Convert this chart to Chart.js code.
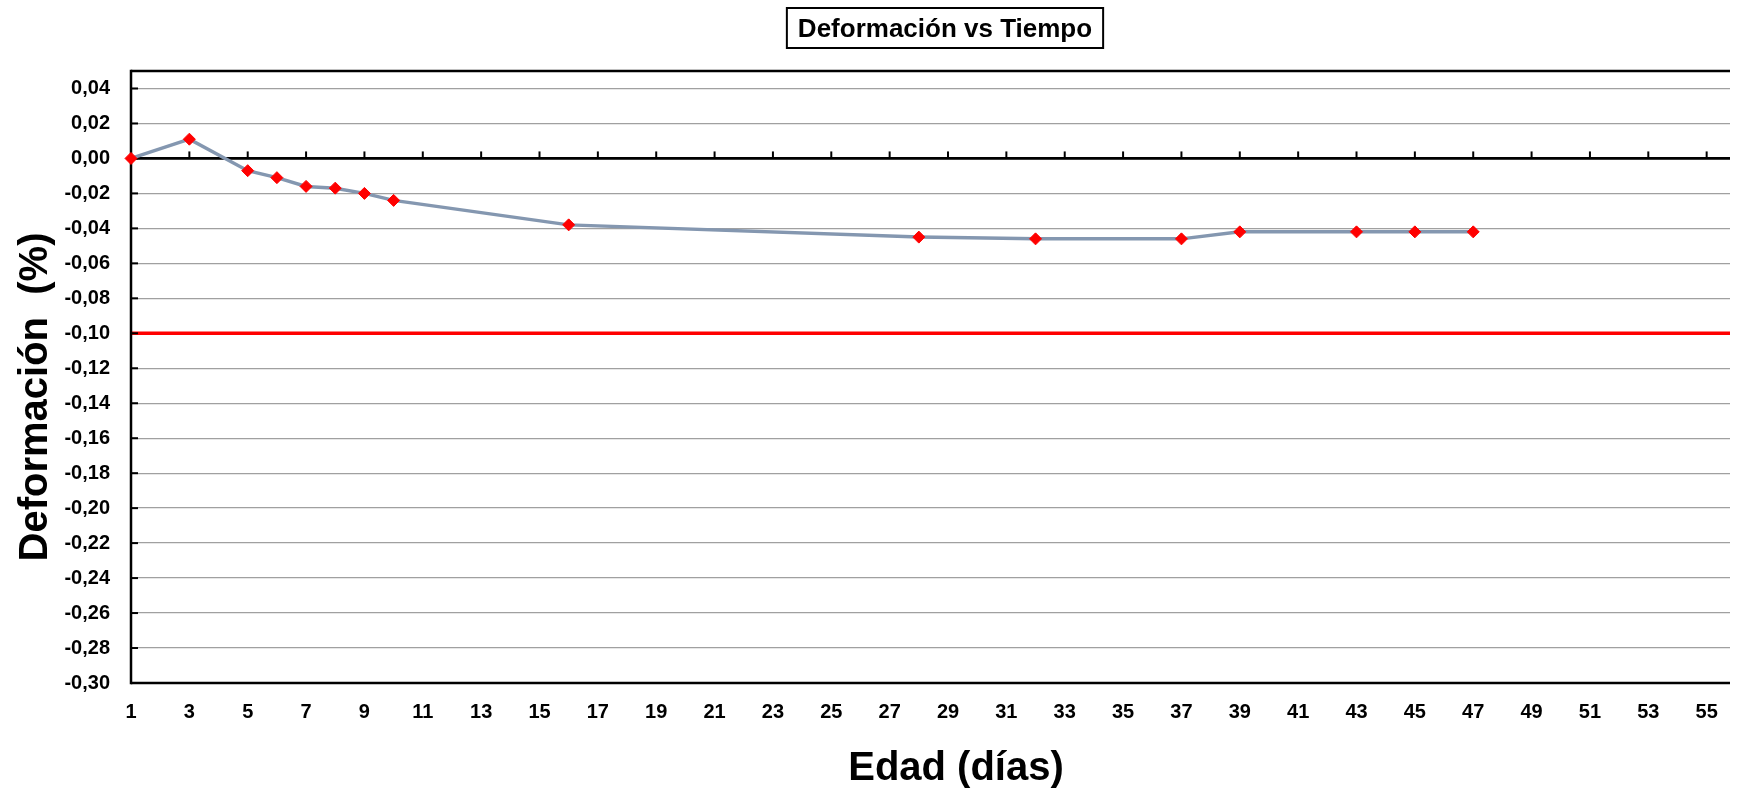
<!DOCTYPE html>
<html>
<head>
<meta charset="utf-8">
<script src="https://cdn.jsdelivr.net/npm/chart.js@4.4.1/dist/chart.umd.min.js"></script>
<style>
  html, body { margin: 0; padding: 0; background: #ffffff; }
  #wrap { width: 1737px; height: 794px; position: relative; }
</style>
</head>
<body>
<div id="wrap"><canvas id="c"></canvas></div>
<script>
// Measured deformation by age of the specimen
const edadDias = [1, 3, 5, 6, 7, 8, 9, 10, 16, 28, 32, 37, 39, 43, 45, 47];
const deformacion = [0, 0.011, -0.007, -0.011, -0.016, -0.017, -0.020, -0.024, -0.038,
                     -0.045, -0.046, -0.046, -0.042, -0.042, -0.042, -0.042];
// Allowed deformation limit
const limiteDeformacion = -0.10;

// Axis ticks
const xTicks = [1, 3, 5, 7, 9, 11, 13, 15, 17, 19, 21, 23, 25, 27, 29, 31, 33, 35, 37, 39,
                41, 43, 45, 47, 49, 51, 53, 55];
const yTicks = [0.04, 0.02, 0.00, -0.02, -0.04, -0.06, -0.08, -0.10, -0.12, -0.14, -0.16,
                -0.18, -0.20, -0.22, -0.24, -0.26, -0.28, -0.30];

// Texts
const chartTitle = 'Deformación vs Tiempo';
const xTitle = 'Edad (días)';
const yTitle = 'Deformación  (%)';

const FONT = '"Liberation Sans", Arial, sans-serif';

function seg(ctx, x1, y1, x2, y2) {
  ctx.beginPath();
  ctx.moveTo(x1, y1);
  ctx.lineTo(x2, y2);
  ctx.stroke();
}

// Plot frame, zero axis, limit line and the text labels around the plot
const framePlugin = {
  id: 'frame',
  beforeDatasetsDraw(chart) {
    const { ctx, chartArea: a, scales: { x, y } } = chart;
    ctx.save();
    ctx.lineCap = 'butt';

    // limit line
    const yl = y.getPixelForValue(limiteDeformacion);
    ctx.strokeStyle = '#ff0000';
    ctx.lineWidth = 3.5;
    seg(ctx, a.left, yl, a.right, yl);

    // frame: top, bottom, left
    ctx.strokeStyle = '#000000';
    ctx.lineWidth = 2.5;
    seg(ctx, a.left, a.top, a.right, a.top);
    seg(ctx, a.left, a.bottom, a.right, a.bottom);
    seg(ctx, a.left, a.top - 1.25, a.left, a.bottom + 1.25);

    // y tick marks pointing into the plot
    ctx.lineWidth = 2;
    yTicks.forEach(v => {
      const py = y.getPixelForValue(v);
      seg(ctx, a.left, py, a.left + 7, py);
    });

    // horizontal axis crossing at zero, with its tick marks
    const y0 = y.getPixelForValue(0);
    ctx.lineWidth = 2.8;
    seg(ctx, a.left, y0, a.right, y0);
    ctx.lineWidth = 2;
    xTicks.forEach(v => {
      const px = x.getPixelForValue(v);
      seg(ctx, px, y0, px, y0 - 7);
    });
    ctx.restore();
  },
  afterDraw(chart) {
    const { ctx } = chart;
    ctx.save();
    ctx.fillStyle = '#000000';

    // boxed chart title
    ctx.font = 'bold 26px ' + FONT;
    ctx.textAlign = 'center';
    ctx.textBaseline = 'alphabetic';
    const tw = ctx.measureText(chartTitle).width;
    const cx = 945;
    ctx.strokeStyle = '#000000';
    ctx.lineWidth = 2;
    ctx.strokeRect(cx - tw / 2 - 11, 8, tw + 22, 40);
    ctx.fillText(chartTitle, cx, 37);

    // x axis title
    ctx.font = 'bold 40px ' + FONT;
    ctx.fillText(xTitle, 956, 780);

    // y axis title
    ctx.translate(36, 397);
    ctx.rotate(-Math.PI / 2);
    ctx.textBaseline = 'middle';
    ctx.fillText(yTitle, 0, 0);
    ctx.restore();
  }
};

new Chart(document.getElementById('c'), {
  type: 'line',
  data: {
    datasets: [{
      label: 'Deformación',
      data: edadDias.map((d, i) => ({ x: d, y: deformacion[i] })),
      borderColor: '#8497b0',
      borderWidth: 3.5,
      pointStyle: 'rectRot',
      pointRadius: 6,
      pointHoverRadius: 6,
      pointBackgroundColor: '#ff0000',
      pointBorderColor: '#ff0000',
      pointBorderWidth: 1,
      tension: 0,
      clip: false
    }]
  },
  options: {
    responsive: true,
    maintainAspectRatio: false,
    animation: false,
    events: [],
    layout: { padding: { top: 71, left: 0, right: 0, bottom: 0 } },
    plugins: {
      legend: { display: false },
      title: { display: false },
      tooltip: { enabled: false }
    },
    scales: {
      x: {
        type: 'linear',
        min: 1,
        max: 55.8,
        afterBuildTicks(scale) { scale.ticks = xTicks.map(v => ({ value: v })); },
        afterFit(scale) { scale.height = 111; },
        grid: { display: false, drawTicks: false },
        border: { display: false },
        ticks: {
          autoSkip: false,
          maxRotation: 0,
          padding: 17,
          color: '#000000',
          font: { family: FONT, size: 20, weight: 'bold' }
        }
      },
      y: {
        type: 'linear',
        min: -0.30,
        max: 0.05,
        afterBuildTicks(scale) { scale.ticks = yTicks.map(v => ({ value: v })); },
        afterFit(scale) { scale.width = 131; },
        grid: { color: '#a0a0a0', lineWidth: 1.3, drawTicks: false },
        border: { display: false },
        ticks: {
          padding: 21,
          color: '#000000',
          font: { family: FONT, size: 20, weight: 'bold' },
          callback: v => v.toFixed(2).replace('.', ',').replace('-0,00', '0,00')
        }
      }
    }
  },
  plugins: [framePlugin]
});
</script>
</body>
</html>
